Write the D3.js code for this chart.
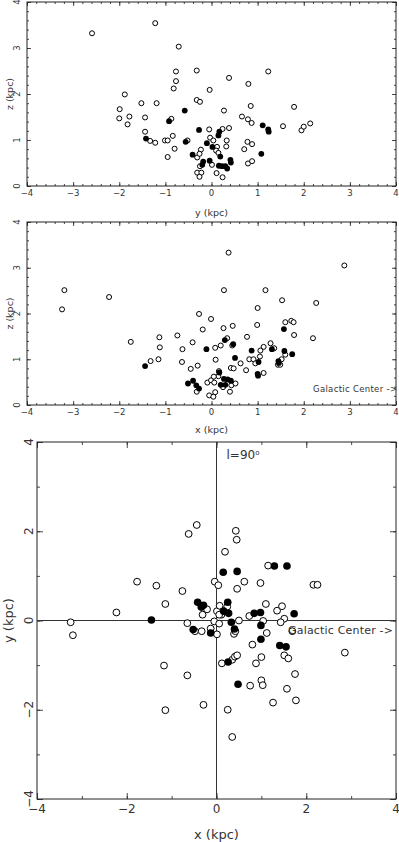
<!DOCTYPE html>
<html>
<head>
<meta charset="utf-8">
<script src="https://cdn.jsdelivr.net/npm/d3@7"></script>
<style>
  body { margin: 0; background: #fff; }
  svg { display: block; }
  text { font-family: "DejaVu Sans", sans-serif; fill: #333; }
</style>
</head>
<body>
<script>
// star positions, [horizontal, vertical] in kpc
var yzOpen = [[-2.59,3.32],[-1.22,3.54],[-0.71,3.03],[-0.77,2.49],[-0.32,2.51],[-0.77,2.28],[-0.82,2.12],
  [0.38,2.35],[1.23,2.49],[0.80,2.22],[-0.04,2.09],[-1.88,1.99],[-0.32,1.87],[-0.25,1.83],[-1.52,1.80],
  [-1.19,1.80],[-1.99,1.67],[-2.00,1.47],[-1.78,1.51],[-1.82,1.34],[-1.44,1.49],[-0.87,1.46],[0.27,1.64],
  [0.85,1.74],[1.79,1.72],[0.66,1.51],[0.79,1.45],[0.87,1.37],[1.55,1.30],[1.95,1.21],[2.00,1.29],
  [2.14,1.36],[-1.44,1.18],[-0.05,1.23],[0.24,1.24],[0.38,1.26],[-0.84,1.09],[-1.33,0.98],[-1.22,0.94],
  [-1.01,0.99],[-0.95,0.99],[-0.52,0.99],[-0.03,1.05],[0.04,0.99],[0.33,0.99],[0.32,0.86],[0.12,0.85],
  [-0.23,0.79],[0.10,0.77],[0.15,0.72],[-0.80,0.81],[-0.95,0.63],[-0.31,0.62],[-0.26,0.70],[0.01,0.46],
  [-0.25,0.43],[0.78,0.96],[0.88,0.91],[0.71,0.80],[0.79,0.49],[0.88,0.54],[-0.31,0.29],[-0.22,0.29],
  [-0.26,0.20],[0.11,0.28],[0.24,0.19]];
var yzFilled = [[-0.58,1.64],[-0.92,1.41],[-0.27,1.22],[0.17,1.18],[0.15,1.10],[-1.42,1.03],[-0.56,0.96],
  [-0.10,0.93],[0.02,0.85],[-0.41,0.68],[0.19,0.64],[1.11,1.32],[1.23,1.23],[1.24,1.18],[1.08,0.70],
  [-0.04,0.55],[-0.18,0.53],[-0.20,0.46],[0.16,0.44],[0.23,0.43],[0.30,0.43],[0.34,0.38],[0.41,0.57],
  [0.42,0.51]];

var xzOpen = [[0.37,3.33],[2.88,3.05],[-3.19,2.51],[-3.24,2.09],[-2.22,2.36],[0.27,2.51],[1.17,2.51],
  [1.53,2.29],[2.27,2.23],[1.00,2.12],[-0.27,1.99],[-0.01,1.88],[-0.19,1.65],[0.26,1.68],[0.46,1.73],
  [0.99,1.75],[1.60,1.81],[1.73,1.84],[1.78,1.81],[-1.75,1.38],[-1.13,1.48],[-0.74,1.52],[-0.41,1.37],
  [0.34,1.46],[0.77,1.49],[1.79,1.53],[2.20,1.46],[-1.12,1.26],[-0.63,1.22],[0.08,1.25],[0.20,1.30],
  [0.45,1.30],[1.28,1.35],[1.36,1.24],[1.13,1.27],[1.06,1.19],[1.05,1.06],[1.60,1.10],[-1.32,0.96],
  [-1.15,1.00],[-0.64,0.94],[0.09,0.99],[0.82,1.00],[0.91,1.00],[0.95,0.91],[0.42,0.81],[0.48,0.80],
  [0.63,0.91],[1.52,1.00],[1.44,0.88],[1.49,0.88],[-0.45,0.79],[-0.30,0.86],[0.75,0.76],[1.13,0.70],
  [0.16,0.74],[0.15,0.63],[-0.09,0.49],[-0.01,0.54],[0.05,0.62],[0.06,0.49],[0.25,0.39],[0.43,0.43],
  [0.52,0.47],[-0.32,0.29],[0.08,0.28],[0.40,0.29],[-0.05,0.21],[0.04,0.18]];
var xzFilled = [[-0.11,1.22],[0.29,1.42],[0.47,1.33],[0.51,1.03],[0.87,1.19],[1.02,0.94],[1.31,1.22],
  [1.57,1.66],[1.58,1.18],[1.75,1.11],[1.45,0.96],[1.46,0.92],[-1.44,0.85],[0.17,0.71],[1.00,0.68],
  [1.01,0.64],[-0.51,0.47],[-0.40,0.53],[-0.33,0.43],[-0.27,0.36],[0.27,0.57],[0.35,0.56],[0.42,0.53],
  [0.20,0.44],[0.30,0.44]];

var xyOpen = [[-0.44,2.14],[-0.62,1.94],[0.43,2.01],[0.45,1.81],[0.19,1.54],[1.15,1.23],[-1.77,0.87],
  [-1.34,0.78],[-0.76,0.66],[-0.04,0.87],[0.04,0.79],[0.46,0.71],[0.62,0.87],[0.98,0.84],[2.16,0.80],
  [2.25,0.80],[-1.14,0.37],[-2.23,0.18],[-3.25,-0.04],[-0.65,-0.06],[-0.31,0.13],[-0.21,0.25],[0.01,0.21],
  [0.07,0.33],[0.11,0.13],[0.06,0.13],[0.24,0.31],[0.73,0.10],[1.10,0.37],[1.35,0.22],[1.46,0.32],
  [1.51,0.04],[1.43,-0.04],[1.04,-0.01],[0.50,0.00],[-0.05,-0.02],[0.06,-0.07],[-3.20,-0.33],
  [-0.48,-0.24],[-0.33,-0.24],[-0.13,-0.18],[0.01,-0.31],[0.39,-0.30],[0.42,-0.24],[1.12,-0.28],
  [0.80,-0.54],[1.69,-0.24],[2.86,-0.72],[1.51,-0.78],[1.60,-0.85],[1.00,-0.82],[0.88,-0.96],[0.12,-0.96],
  [0.35,-0.88],[0.41,-0.81],[0.46,-0.78],[-1.17,-1.01],[-0.65,-1.23],[1.75,-1.20],[1.00,-1.34],
  [1.03,-1.45],[0.75,-1.46],[1.57,-1.53],[-0.29,-1.89],[1.26,-1.84],[1.77,-1.79],[-1.14,-2.01],
  [0.25,-2.00],[0.35,-2.61]];
var xyFilled = [[0.15,1.08],[0.46,1.10],[1.29,1.22],[1.57,1.22],[-0.42,0.41],[-0.34,0.30],[-0.29,0.34],
  [0.25,0.41],[0.16,0.21],[0.27,0.16],[0.84,0.16],[0.98,0.18],[1.73,0.15],[-1.45,0.01],[-0.52,-0.20],
  [-0.13,-0.28],[0.33,-0.04],[0.40,-0.19],[0.99,-0.11],[0.99,-0.42],[1.41,-0.56],[1.55,-0.59],
  [0.26,-0.93],[0.48,-1.43]];

// axis ticks
var ticks1 = d3.range(-4, 4.01, 1);
var ticks02 = d3.range(-4, 4.01, 0.2);
var zTicks = d3.range(0, 4.01, 1);
var zTicks02 = d3.range(0, 4.01, 0.2);
var ticks2 = [-4, -2, 0, 2, 4];

var width = 399, height = 842;
var svg = d3.select("body").append("svg")
    .attr("width", width)
    .attr("height", height);

function drawPanel(p) {
    var x = d3.scaleLinear().domain([-4, 4]).range([p.left, p.right]);
    var y = d3.scaleLinear().domain(p.yDomain).range([p.bottom, p.top]);
    var g = svg.append("g");

    function tickSet(axisFn, scale, values, size, tx, ty) {
        var a = g.append("g")
            .attr("transform", "translate(" + tx + "," + ty + ")")
            .call(axisFn(scale).tickValues(values).tickSize(-size).tickFormat(""));
        a.select(".domain").remove();
        a.selectAll("line").attr("stroke", "#333").attr("stroke-width", 0.9);
    }
    // ticks on all four sides, pointing inward
    [[p.xMinor, p.minorLen, p.yMinor], [p.xMajor, p.majorLen, p.yMajor]].forEach(function(t) {
        tickSet(d3.axisBottom, x, t[0], t[1], 0, p.bottom);
        tickSet(d3.axisTop, x, t[0], t[1], 0, p.top);
        tickSet(d3.axisLeft, y, t[2], t[1], p.left, 0);
        tickSet(d3.axisRight, y, t[2], t[1], p.right, 0);
    });

    g.append("rect")
        .attr("x", p.left).attr("y", p.top)
        .attr("width", p.right - p.left).attr("height", p.bottom - p.top)
        .attr("fill", "none").attr("stroke", "#222").attr("stroke-width", 1);

    if (p.zeroLines) {
        g.append("line").attr("x1", x(0)).attr("x2", x(0)).attr("y1", p.top).attr("y2", p.bottom)
            .attr("stroke", "#333");
        g.append("line").attr("x1", p.left).attr("x2", p.right).attr("y1", y(0)).attr("y2", y(0))
            .attr("stroke", "#333");
    }

    var fmt = d3.format("d");
    g.selectAll(".xl").data(p.xMajor).enter().append("text")
        .attr("x", function(d) { return x(d); })
        .attr("y", p.bottom + p.xLabelOff)
        .attr("text-anchor", "middle")
        .style("font-size", p.tickFont + "px")
        .text(fmt);
    g.selectAll(".yl").data(p.yMajor).enter().append("text")
        .attr("transform", function(d) { return "translate(" + p.yLabelX + "," + y(d) + ") rotate(-90)"; })
        .attr("dy", "0.35em")
        .attr("text-anchor", "middle")
        .style("font-size", p.tickFont + "px")
        .text(fmt);

    g.append("text")
        .attr("x", (p.left + p.right) / 2 + p.xTitleShift)
        .attr("y", p.xTitleY)
        .attr("text-anchor", "middle")
        .style("font-size", p.titleFont + "px")
        .text(p.xTitle);
    g.append("text")
        .attr("transform", "translate(" + p.yTitleX + "," + (p.top + p.bottom) / 2 + ") rotate(-90)")
        .attr("dy", "0.35em")
        .attr("text-anchor", "middle")
        .style("font-size", p.titleFont + "px")
        .text(p.yTitle);

    g.selectAll(".open").data(p.open).enter().append("circle")
        .attr("cx", function(d) { return x(d[0]); })
        .attr("cy", function(d) { return y(d[1]); })
        .attr("r", p.r)
        .attr("fill", "#fff").attr("stroke", "#000").attr("stroke-width", 1);
    g.selectAll(".filled").data(p.filled).enter().append("circle")
        .attr("cx", function(d) { return x(d[0]); })
        .attr("cy", function(d) { return y(d[1]); })
        .attr("r", p.r + 0.4)
        .attr("fill", "#000");

    if (p.gc) {
        g.append("text")
            .attr("x", p.gc.x).attr("y", p.gc.y)
            .attr("textLength", p.gc.len).attr("lengthAdjust", "spacing")
            .style("font-size", p.gc.size + "px")
            .text("Galactic Center ->");
    }
    return {x: x, y: y, g: g};
}

drawPanel({
    left: 27, right: 396, top: 2, bottom: 186, yDomain: [0, 4],
    xMajor: ticks1, xMinor: ticks02, yMajor: zTicks, yMinor: zTicks02,
    majorLen: 4, minorLen: 2,
    tickFont: 8.5, xLabelOff: 10, yLabelX: 17,
    titleFont: 9.5, xTitle: "y (kpc)", xTitleY: 216, xTitleShift: 0,
    yTitle: "z (kpc)", yTitleX: 10,
    open: yzOpen, filled: yzFilled, r: 2.5
});

drawPanel({
    left: 27, right: 396, top: 222, bottom: 405, yDomain: [0, 4],
    xMajor: ticks1, xMinor: ticks02, yMajor: zTicks, yMinor: zTicks02,
    majorLen: 4, minorLen: 2,
    tickFont: 8.5, xLabelOff: 10, yLabelX: 17,
    titleFont: 9.5, xTitle: "x (kpc)", xTitleY: 433, xTitleShift: 0,
    yTitle: "z (kpc)", yTitleX: 10,
    open: xzOpen, filled: xzFilled, r: 2.5,
    gc: {x: 313, y: 392, len: 84, size: 8.5}
});

var bot = drawPanel({
    left: 37, right: 396, top: 442, bottom: 799, yDomain: [-4, 4],
    xMajor: ticks2, xMinor: ticks1, yMajor: ticks2, yMinor: ticks1,
    majorLen: 6, minorLen: 3, zeroLines: true,
    tickFont: 12, xLabelOff: 14, yLabelX: 29,
    titleFont: 13, xTitle: "x (kpc)", xTitleY: 839, xTitleShift: 0,
    yTitle: "y (kpc)", yTitleX: 8,
    open: xyOpen, filled: xyFilled, r: 3.4,
    gc: {x: 288, y: 634, len: 105, size: 11}
});

// longitude marker next to the x = 0 line
var lab = bot.g.append("text")
    .attr("x", bot.x(0) + 10)
    .attr("y", bot.y(3.62))
    .style("font-size", "12px")
    .text("l=90");
lab.append("tspan")
    .attr("dy", "-0.55em")
    .style("font-size", "7px")
    .text("o");
</script>
</body>
</html>
